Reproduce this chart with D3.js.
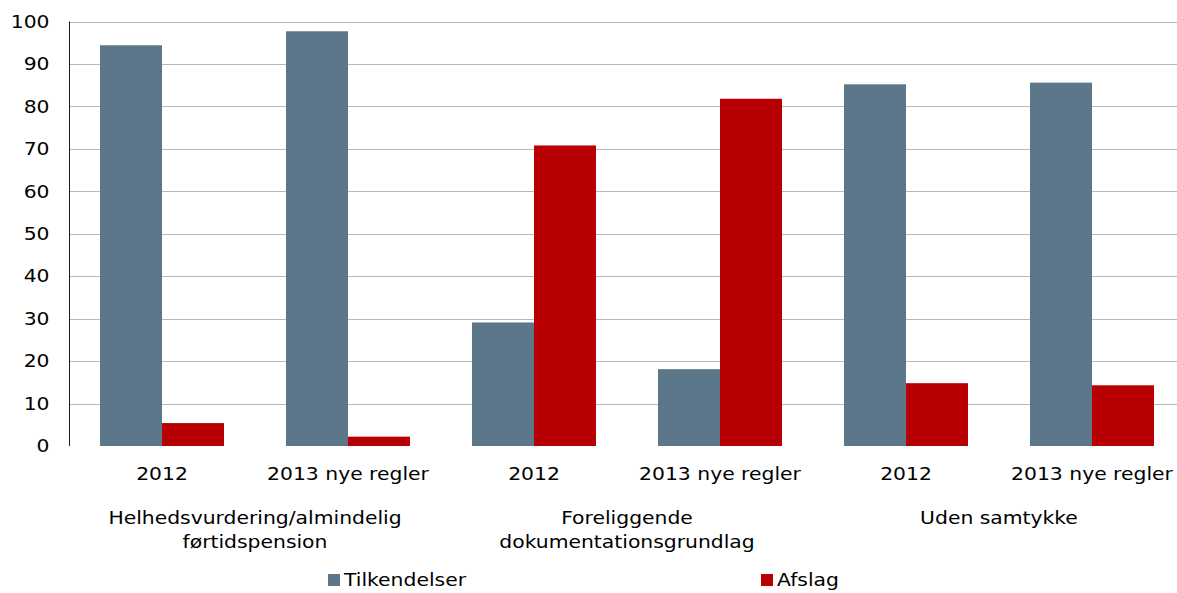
<!DOCTYPE html>
<html>
<head>
<meta charset="utf-8">
<script src="https://cdn.jsdelivr.net/npm/d3@7"></script>
<style>
  body { margin: 0; background: #fff; }
  text { font-family: "DejaVu Sans", Verdana, sans-serif; fill: #000; }
</style>
</head>
<body>
<svg id="chart" width="1177" height="593"></svg>
<script>
const categories = ['2012', '2013 nye regler', '2012', '2013 nye regler', '2012', '2013 nye regler']
const groupLabels = [
    ['Helhedsvurdering/almindelig', 'førtidspension'],
    ['Foreliggende', 'dokumentationsgrundlag'],
    ['Uden samtykke']
]
const series = ['Tilkendelser', 'Afslag']
const tilkendelser = [94.4, 97.7, 29.1, 18.1, 85.2, 85.6]
const afslag = [5.4, 2.2, 70.8, 81.8, 14.8, 14.3]
const yTicks = [0, 10, 20, 30, 40, 50, 60, 70, 80, 90, 100]

const colors = ['#5b7789', '#b80004']
const stretch = 1.13   // the source text is a little wider than the font
const fontSize = '18px'

const svg = d3.select('#chart')
const width = 1177

const xScale = d3.scaleBand()
    .domain(categories.map((_, i) => i))
    .range([69, 69 + 6 * 186])
    .paddingInner(1/3)
    .paddingOuter(1/6)
const step = xScale.step()

const x1 = d3.scaleBand().domain(series).range([0, xScale.bandwidth()])
const yScale = d3.scaleLinear().domain([0, 100]).range([446, 21.5])

// gridlines
svg.append('g').selectAll('line').data(yTicks.filter(d => d > 0)).enter().append('line')
    .attr('x1', 69).attr('x2', width)
    .attr('y1', d => Math.round(yScale(d)) + 0.5)
    .attr('y2', d => Math.round(yScale(d)) + 0.5)
    .attr('stroke', '#b8b8b8')

// bars
const rows = categories.map((c, i) => ({i, values: [tilkendelser[i], afslag[i]]}))
svg.append('g').selectAll('g').data(rows).enter().append('g')
    .attr('transform', d => `translate(${xScale(d.i)},0)`)
    .selectAll('rect').data(d => d.values.map((v, k) => ({key: series[k], v, k}))).enter().append('rect')
    .attr('x', d => x1(d.key))
    .attr('width', x1.bandwidth())
    .attr('y', d => yScale(d.v))
    .attr('height', d => yScale(0) - yScale(d.v))
    .attr('fill', d => colors[d.k])

// y axis
const yAxis = d3.axisLeft(yScale).tickValues(yTicks).tickSize(0).tickPadding(20)
const ya = svg.append('g').attr('transform', 'translate(69.5,0)').call(yAxis)
ya.select('.domain').remove()
ya.selectAll('text')
    .attr('x', -20 / stretch)
    .attr('transform', `scale(${stretch},1)`)
    .style('font-size', fontSize)
    .style('font-family', '"DejaVu Sans", Verdana, sans-serif')
    .attr('fill', '#000')
svg.append('line')
    .attr('x1', 69.5).attr('x2', 69.5)
    .attr('y1', yScale(100)).attr('y2', yScale(0))
    .attr('stroke', '#1e1a14')

function label(x, y, txt, anchor) {
    svg.append('text')
        .attr('transform', `translate(${x},${y}) scale(${stretch},1)`)
        .attr('text-anchor', anchor || 'middle')
        .attr('dy', '0.35em')
        .style('font-size', fontSize)
        .text(txt)
}

// category labels
categories.forEach((c, i) => label(xScale(i) + xScale.bandwidth() / 2, 474, c))

// group labels
groupLabels.forEach((lines, g) => {
    const cx = xScale(0) - step / 6 + step * (2 * g + 1)
    lines.forEach((t, j) => label(cx, 518 + j * 24, t))
})

// legend
const legendX = [328, 761]
series.forEach((s, k) => {
    svg.append('rect')
        .attr('x', legendX[k]).attr('y', 574)
        .attr('width', 12).attr('height', 12)
        .attr('fill', colors[k])
    label(legendX[k] + 16, 580, s, 'start')
})
</script>
</body>
</html>
